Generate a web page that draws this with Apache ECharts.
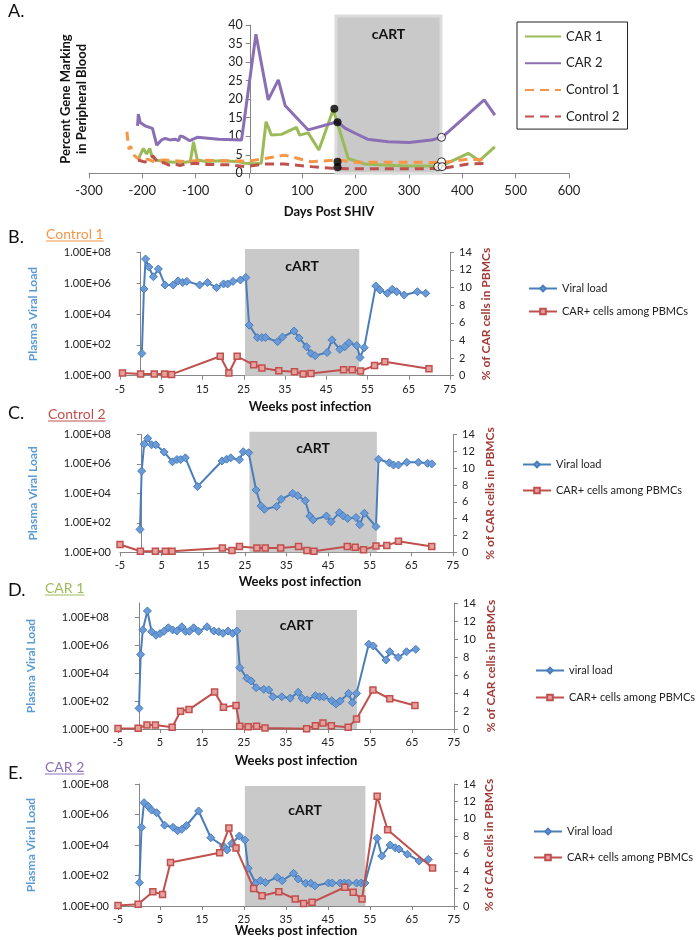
<!DOCTYPE html>
<html><head><meta charset="utf-8">
<script src="https://cdn.jsdelivr.net/npm/echarts@6/dist/echarts.min.js"></script>
<style>html,body{margin:0;padding:0;background:#fff}#c{width:697px;height:940px}</style>
</head><body><div id="c"></div>
<script>
// ---------- Panel A: percent gene marking (days post SHIV, %) ----------
const daysTicks = [-300,-200,-100,0,100,200,300,400,500,600];
const markTicks = [0,5,10,15,20,25,30,35,40];
const car1 = [[-207,4.0],[-198,6.7],[-192,5.2],[-186,6.7],[-182,4.5],[-175,3.6],[-160,3.2],[-140,3.0],[-120,3.0],[-110,3.2],[-104,8.5],[-97,3.6],[-80,3.2],[-50,3.4],[-20,3.1],[-7,2.7],[10,2.6],[23,2.7],[32,13.9],[42,10.3],[61,10.5],[89,12.4],[95,10.3],[111,10.9],[131,6.3],[158,17.2],[186,4.0],[217,2.5],[260,2.2],[300,2.0],[361,2.0],[411,5.4],[432,3.4],[461,7.1]];
const car2 = [[-209,12.8],[-207.5,16.0],[-204,13.7],[-195,12.8],[-181,12.1],[-177.5,11.9],[-173,7.6],[-164,9.0],[-157,9.4],[-148,9.0],[-139,9.2],[-132,8.8],[-129,10.1],[-124,9.9],[-111,8.8],[-97,9.7],[-57,9.2],[-14,9.0],[13,37.5],[36,19.8],[55,25.2],[68,18.2],[111,11.7],[166,13.9],[180,12.2],[199,10.8],[222,9.2],[261,8.5],[300,8.3],[342,9.0],[362,9.7],[441,19.8],[461,15.7]];
const control1 = [[-229,11.2],[-225,6.5],[-222,7.3],[-217,5.0],[-210,4.2],[-200,3.2],[-190,3.8],[-180,3.2],[-160,3.6],[-140,3.4],[-120,3.2],[-100,3.4],[-80,3.5],[-50,3.4],[-20,3.3],[0,3.3],[30,4.0],[67,4.9],[117,3.1],[167,3.6],[200,3.0],[300,3.0],[361,2.9],[411,3.8],[448,3.6]];
const control2 = [[-208,3.6],[-195,3.0],[-180,4.7],[-170,2.7],[-160,2.9],[-150,2.2],[-140,2.6],[-130,2.1],[-120,2.5],[-100,2.7],[-80,2.4],[-40,2.3],[-7,1.8],[30,2.5],[67,2.5],[117,1.8],[155,1.35],[200,1.2],[300,1.2],[361,1.3],[411,2.5],[448,2.7]];
const blackDots = [[160,17.4],[166,13.8],[166,3.1],[166,1.6]];
const whiteDots = [[361,9.7],[361,3.1],[354,1.8],[362,1.8]];
const cartA = [163,360];

// ---------- Panels B-E: weeks post infection ----------
const weekTicks = [-5,5,15,25,35,45,55,65,75];
const logTicks = [1,1e2,1e4,1e6,1e8];
const logTickLabels = ['1.00E+00','1.00E+02','1.00E+04','1.00E+06','1.00E+08'];
const pctTicks = [0,2,4,6,8,10,12,14];

// Control 1
const vlB = [[0.3,28],[0.8,4.2e5],[1.2,3.7e7],[2.0,1.1e7],[3.1,2.6e6],[4.3,8.3e6],[5.9,7.6e5],[7.9,7.6e5],[9.1,1.4e6],[10.2,1.1e6],[11.2,1.3e6],[14.3,7.6e5],[16.2,1.1e6],[18.4,5.1e5],[20.1,8.9e5],[21.1,8.9e5],[22.4,1.3e6],[24.2,1.6e6],[25.5,2.3e6],[26.3,1.9e3],[28.3,300],[29.4,300],[30.3,300],[33.2,160],[34.4,320],[37.2,790],[38.4,280],[40.2,76],[41.3,28],[42.3,20],[45.2,32],[46.4,210],[48.3,51],[49.5,76],[50.5,138],[52.4,89],[53.2,15],[54.2,66],[57.0,6.6e5],[58.0,3.6e5],[59.8,2.2e5],[61.0,4.0e5],[62.1,2.8e5],[63.9,1.7e5],[67.1,2.8e5],[69.1,2.2e5]];
const carB = [[-4.4,0.3],[0,0.2],[3.3,0.2],[5.8,0.2],[7.5,0.15],[19.3,2.2],[21.4,0.3],[23.4,2.2],[27.4,1.24],[29.4,0.87],[33.5,0.56],[37.3,0.45],[39.4,0.2],[41.3,0.26],[49.2,0.68],[51.3,0.68],[53.3,0.53],[56.7,1.15],[59.2,1.58],[69.9,0.79]];
// Control 2
const vlC = [[-0.2,36],[0.2,3.3e5],[0.8,2.2e7],[1.65,5.5e7],[2.6,2.0e7],[3.6,2.0e7],[5.6,6.5e6],[7.6,1.4e6],[8.7,2.0e6],[9.6,2.0e6],[10.7,2.6e6],[13.6,2.9e4],[19.5,1.6e6],[20.6,2.1e6],[21.6,2.6e6],[23.7,1.9e6],[24.6,6.8e6],[25.9,5.8e6],[27.7,1.7e4],[28.9,1.4e3],[29.7,830],[32.6,1.3e3],[33.7,4.0e3],[36.5,1.0e4],[37.7,6.9e3],[39.5,3.2e3],[40.6,290],[41.4,160],[44.6,290],[45.7,120],[47.7,490],[48.6,300],[49.7,200],[51.7,230],[52.6,76],[53.7,450],[56.5,56],[57.1,2.1e6],[59.7,1.2e6],[60.7,8.5e5],[61.9,8.5e5],[63.9,1.3e6],[66.7,1.3e6],[68.9,1.1e6],[69.9,1.0e6]];
const carC = [[-5,0.92],[-0.1,0.13],[3.5,0.13],[5.9,0.13],[7.5,0.13],[19.6,0.52],[21.9,0.2],[23.7,0.68],[27.9,0.52],[29.9,0.52],[33.6,0.52],[37.9,0.68],[39.9,0.2],[41.6,0.13],[49.6,0.68],[51.5,0.6],[53.5,0.29],[56.5,0.75],[59.1,0.8],[61.9,1.3],[69.9,0.68]];
// CAR 1
const vlD = [[0,30],[0.4,2.1e5],[0.9,1.2e7],[2.0,2.7e8],[3.0,8.9e6],[4.05,5.0e6],[5.0,6.5e6],[5.95,9.5e6],[7.0,1.7e7],[8.0,1.2e7],[9.0,1.0e7],[10.2,2.0e7],[11.1,9.5e6],[12.0,9.5e6],[13.0,1.7e7],[14.2,9.5e6],[16.2,2.0e7],[17.8,1.0e7],[19.0,8.9e6],[20.0,6.8e6],[21.2,1.0e7],[22.3,6.8e6],[23.3,1.0e7],[24.0,2.4e4],[25.7,4.2e3],[26.7,2.7e3],[27.9,890],[29.7,680],[30.9,620],[31.9,200],[34.0,200],[36.0,160],[37.9,420],[38.8,160],[40.0,120],[42.0,240],[43.0,200],[44.0,200],[45.9,105],[46.9,62],[47.9,100],[49.9,350],[50.8,76],[51.8,350],[54.7,1.15e6],[55.8,8.5e5],[58.8,8.5e4],[59.7,3.3e5],[61.7,1.3e5],[63.7,3.3e5],[65.9,4.9e5]];
const carD = [[-5,0.05],[-0.2,0.08],[1.9,0.45],[3.9,0.45],[7.9,0.19],[9.9,1.97],[11.9,2.16],[18.0,4.1],[20.1,2.43],[23.1,2.6],[24.0,0.3],[26.0,0.26],[28.0,0.3],[30.0,0.11],[39.9,0.03],[42.0,0.37],[43.8,0.67],[45.8,0.37],[49.8,0.19],[51.8,1.12],[55.7,4.33],[59.7,3.36],[65.7,2.61]];
// CAR 2
const vlE = [[0.1,34],[0.6,1.45e5],[1.2,6.0e6],[2.2,3.5e6],[3.0,1.95e6],[4.2,1.3e6],[6.1,2.0e5],[8.1,1.45e5],[9.2,8.7e4],[10.2,1.07e5],[11.3,1.9e5],[14.2,1.7e6],[17.1,3.0e4],[20.1,8.5e3],[21.0,4.7e3],[22.1,1.26e4],[23.9,3.9e4],[25.2,2.1e4],[26.0,300],[27.8,31],[28.9,46],[30.1,35],[32.9,76],[34.1,46],[36.8,138],[37.9,59],[39.7,31],[40.9,31],[41.9,21],[45.1,32],[46.0,32],[47.9,32],[48.9,32],[49.9,32],[51.8,32],[52.9,32],[53.8,32],[56.7,2.75e4],[57.8,1.9e3],[59.8,1.0e4],[61.0,6.6e3],[61.9,5.4e3],[63.9,2.5e3],[66.7,890],[68.9,1.15e3]];
const carE = [[-5,0.05],[-0.2,0.19],[3.3,1.64],[5.6,1.33],[7.5,4.98],[19.2,6.12],[21.4,8.94],[23.1,6.67],[27.3,2.02],[29.3,1.18],[33.3,1.64],[37.2,0.8],[39.2,0.3],[41.2,0.42],[49.0,2.15],[51.0,1.58],[53.1,0.8],[56.7,12.6],[59.2,8.75],[69.9,4.37]];

const cartB = [25.3,53.0], cartC = [26.1,56.7], cartD = [23.1,51.9], cartE = [25.2,53.9];

// ---------- layout / style ----------
const FONT = 'Lato, "Open Sans", sans-serif';
const H = 940;
const AX = {color:'#868686', width:1};
const TXT = '#222';
const C_CAR1 = '#9BBB59', C_CAR2 = '#8B6FB5', C_CTL1 = '#F79646', C_CTL2 = '#C0504D';

const grids = [], xAxes = [], yAxes = [], series = [], legends = [], graphics = [];

function bandSeries(xi, yi, range, dist) {
  return {type:'line', xAxisIndex:xi, yAxisIndex:yi, data:[], silent:true, z:0,
    markArea:{silent:true, itemStyle:{color:'#C9C9C9'},
      label:{show:true, position:'insideTop', distance:dist, formatter:'cART', fontWeight:'bold', fontSize:14, color:'#111', fontFamily:FONT},
      data:[[{xAxis:range[0], yAxis:0},{xAxis:range[1], yAxis:1}]]}};
}

// Panel A main grid (0) and band grid (1)
const A_LEFT = 89, A_ZERO_X = 250.7;
grids.push({left:A_LEFT, right:128, top:25, bottom:H-173.3});
grids.push({left:A_LEFT, right:128, top:16, bottom:H-173.3});
xAxes.push({gridIndex:0, type:'value', min:-300, max:600, interval:100,
  axisLine:{lineStyle:AX, onZero:false}, axisTick:{show:true, length:5, lineStyle:AX}, splitLine:{show:false},
  axisLabel:{fontSize:13, color:TXT, margin:11, fontFamily:FONT, formatter:v=>String(daysTicks[daysTicks.indexOf(v)] ?? v)}});
yAxes.push({gridIndex:0, type:'value', min:0, max:40, interval:5, position:'left', offset:-(A_ZERO_X - A_LEFT),
  axisLine:{show:true, onZero:false, lineStyle:AX}, axisTick:{show:true, length:5, lineStyle:AX}, splitLine:{show:false},
  axisLabel:{fontSize:12.5, color:TXT, margin:8, fontFamily:FONT, formatter:v=>String(markTicks[markTicks.indexOf(v)] ?? v)}});
xAxes.push({gridIndex:1, type:'value', min:-300, max:600, show:false});
yAxes.push({gridIndex:1, type:'value', min:0, max:1, show:false});
series.push(bandSeries(1, 1, cartA, 13));
series[0].markArea.itemStyle = {color:'#C9C9C9', borderColor:'#DCDCDC', borderWidth:3};

const lineA = (name, data, color, dashed) => ({name, type:'line', xAxisIndex:0, yAxisIndex:0, data, symbol:'none', z:3,
  lineStyle:{color, width:3, type: dashed ? [9,6] : 'solid'}, itemStyle:{color}});
series.push(lineA('CAR 1', car1, C_CAR1, false));
series.push(lineA('CAR 2', car2, C_CAR2, false));
series.push(lineA('Control 1', control1, C_CTL1, true));
series.push(lineA('Control 2', control2, C_CTL2, true));
series.push({type:'scatter', xAxisIndex:0, yAxisIndex:0, data:blackDots, symbolSize:8, z:5, itemStyle:{color:'#000'}});
series.push({type:'scatter', xAxisIndex:0, yAxisIndex:0, data:whiteDots, symbolSize:8, z:5, itemStyle:{color:'#fff', borderColor:'#000', borderWidth:1}});

legends.push({data:['CAR 1','CAR 2','Control 1','Control 2'], orient:'vertical', left:517, top:22,
  itemWidth:36, itemHeight:14, itemGap:13.7, padding:[8,8,6,7], borderColor:'#222', borderWidth:1,
  itemStyle:{opacity:0},
  textStyle:{fontSize:13, color:TXT, fontFamily:FONT}});

// Panels B-E
const panels = [
  {vl:vlB, car:carB, cart:cartB, vlName:'Viral load', left:120, rightX:450, top:252.3, bottom:375.7, bandTop:249, logMax:1e8, labelDist:10, lgLeft:528, lgTop:283, lgGap:12, rGap:30},
  {vl:vlC, car:carC, cart:cartC, vlName:'Viral load', left:120, rightX:453, top:434.5, bottom:552.3, bandTop:431.7, logMax:1e8, labelDist:10, lgLeft:522, lgTop:459, lgGap:15, rGap:31},
  {vl:vlD, car:carD, cart:cartD, vlName:'viral load', left:118, rightX:454, top:603, bottom:729, bandTop:610, logMax:1e9, labelDist:8, lgLeft:535, lgTop:665, lgGap:16, rGap:31},
  {vl:vlE, car:carE, cart:cartE, vlName:'Viral load', left:118, rightX:454, top:784, bottom:906, bandTop:786, logMax:1e8, labelDist:17, lgLeft:533, lgTop:826, lgGap:15, rGap:29}
];
const logLabel = v => {
  const e = Math.round(Math.log10(v));
  const i = logTicks.findIndex(t => Math.round(Math.log10(t)) === e);
  return i >= 0 ? logTickLabels[i] : '';
};
panels.forEach(p => {
  const g = grids.length;
  grids.push({left:p.left, right:697-p.rightX, top:p.top, bottom:H-p.bottom});
  grids.push({left:p.left, right:697-p.rightX, top:p.bandTop, bottom:H-p.bottom});
  const xi = xAxes.length, yi = yAxes.length;
  xAxes.push({gridIndex:g, type:'value', min:-5, max:75,
    axisLine:{lineStyle:AX, onZero:false}, axisTick:{show:true, length:4, lineStyle:AX, customValues:weekTicks}, splitLine:{show:false},
    axisLabel:{customValues:weekTicks, fontSize:11, color:TXT, margin:8, fontFamily:FONT}});
  yAxes.push({gridIndex:g, type:'log', logBase:10, min:1, max:p.logMax, position:'left',
    axisLine:{show:true, lineStyle:AX}, axisTick:{show:true, length:4, lineStyle:AX, customValues:logTicks},
    minorTick:{show:false}, splitLine:{show:false},
    axisLabel:{customValues:logTicks, formatter:logLabel, fontSize:11, color:TXT, margin:9, fontFamily:FONT},
    name:'Plasma Viral Load', nameLocation:'middle', nameGap:81, nameRotate:90,
    nameTextStyle:{color:'#5B9BD5', fontWeight:'bold', fontSize:12, fontFamily:FONT}});
  yAxes.push({gridIndex:g, type:'value', min:0, max:14, interval:2, position:'right',
    axisLine:{show:true, lineStyle:AX}, axisTick:{show:true, length:4, lineStyle:AX}, splitLine:{show:false},
    axisLabel:{fontSize:11, color:TXT, margin:9, fontFamily:FONT, formatter:v=>String(pctTicks[pctTicks.indexOf(v)] ?? v)},
    name:'% of CAR cells in PBMCs', nameLocation:'middle', nameGap:p.rGap, nameRotate:90,
    nameTextStyle:{color:'#A33A36', fontWeight:'bold', fontSize:12, fontFamily:FONT}});
  xAxes.push({gridIndex:g+1, type:'value', min:-5, max:75, show:false});
  yAxes.push({gridIndex:g+1, type:'value', min:0, max:1, show:false});
  series.push(bandSeries(xi+1, yi+2, p.cart, p.labelDist));
  series.push({name:p.vlName, type:'line', xAxisIndex:xi, yAxisIndex:yi, data:p.vl, z:3,
    symbol:'diamond', symbolSize:8, lineStyle:{color:'#4A7EBB', width:2},
    itemStyle:{color:'#6A9BD8', borderColor:'#4A7EBB', borderWidth:1}});
  series.push({name:'CAR+ cells among PBMCs', type:'line', xAxisIndex:xi, yAxisIndex:yi+1, data:p.car, z:4,
    symbol:'rect', symbolSize:6, lineStyle:{color:'#C0504D', width:2},
    itemStyle:{color:'#E6A19F', borderColor:'#C0504D', borderWidth:1.5}});
  legends.push({data:[p.vlName,'CAR+ cells among PBMCs'], orient:'vertical', left:p.lgLeft, top:p.lgTop,
    itemWidth:28, itemHeight:7, itemGap:p.lgGap, padding:0, textStyle:{fontSize:11, color:TXT, fontFamily:FONT}});
});

// ---------- text annotations ----------
const ctx = document.createElement('canvas').getContext('2d');
function tw(text, font){ ctx.font = font; return ctx.measureText(text).width; }
function txt(x, y, text, font, fill, align){
  graphics.push({type:'text', x, y, style:{text, font, fill, align: align || 'left', verticalAlign:'middle'}});
}
function uname(x, y, text, color){
  const f = '14px ' + FONT;
  txt(x, y, text, f, color);
  const w = tw(text, f);
  graphics.push({type:'line', shape:{x1:x, y1:y+7, x2:x+w, y2:y+7}, style:{stroke:color, lineWidth:1}});
}
txt(8, 11, 'A.', '18px ' + FONT, '#111');
txt(8, 237, 'B.', '18px ' + FONT, '#111');
txt(8, 413, 'C.', '18px ' + FONT, '#111');
txt(8, 590, 'D.', '18px ' + FONT, '#111');
txt(8, 773, 'E.', '18px ' + FONT, '#111');
uname(46, 234, 'Control 1', C_CTL1);
uname(48, 414, 'Control 2', C_CTL2);
uname(45, 588, 'CAR 1', C_CAR1);
uname(45, 767, 'CAR 2', C_CAR2);
const bold13 = 'bold 13px ' + FONT;
txt(329, 212, 'Days Post SHIV', bold13, '#111', 'center');
txt(310, 407, 'Weeks post infection', bold13, '#111', 'center');
txt(300, 582, 'Weeks post infection', bold13, '#111', 'center');
txt(296, 761, 'Weeks post infection', bold13, '#111', 'center');
txt(296, 931, 'Weeks post infection', bold13, '#111', 'center');
graphics.push({type:'text', x:74, y:99, rotation:Math.PI/2,
  style:{text:'Percent Gene Marking\nin Peripheral Blood', font:bold13, fill:'#111', align:'center', verticalAlign:'middle', lineHeight:16}});

const chart = echarts.init(document.getElementById('c'), null, {renderer:'canvas'});
chart.setOption({
  animation:false, backgroundColor:'#fff',
  textStyle:{fontFamily:FONT},
  grid:grids, xAxis:xAxes, yAxis:yAxes, series, legend:legends, graphic:graphics
});
</script></body></html>
